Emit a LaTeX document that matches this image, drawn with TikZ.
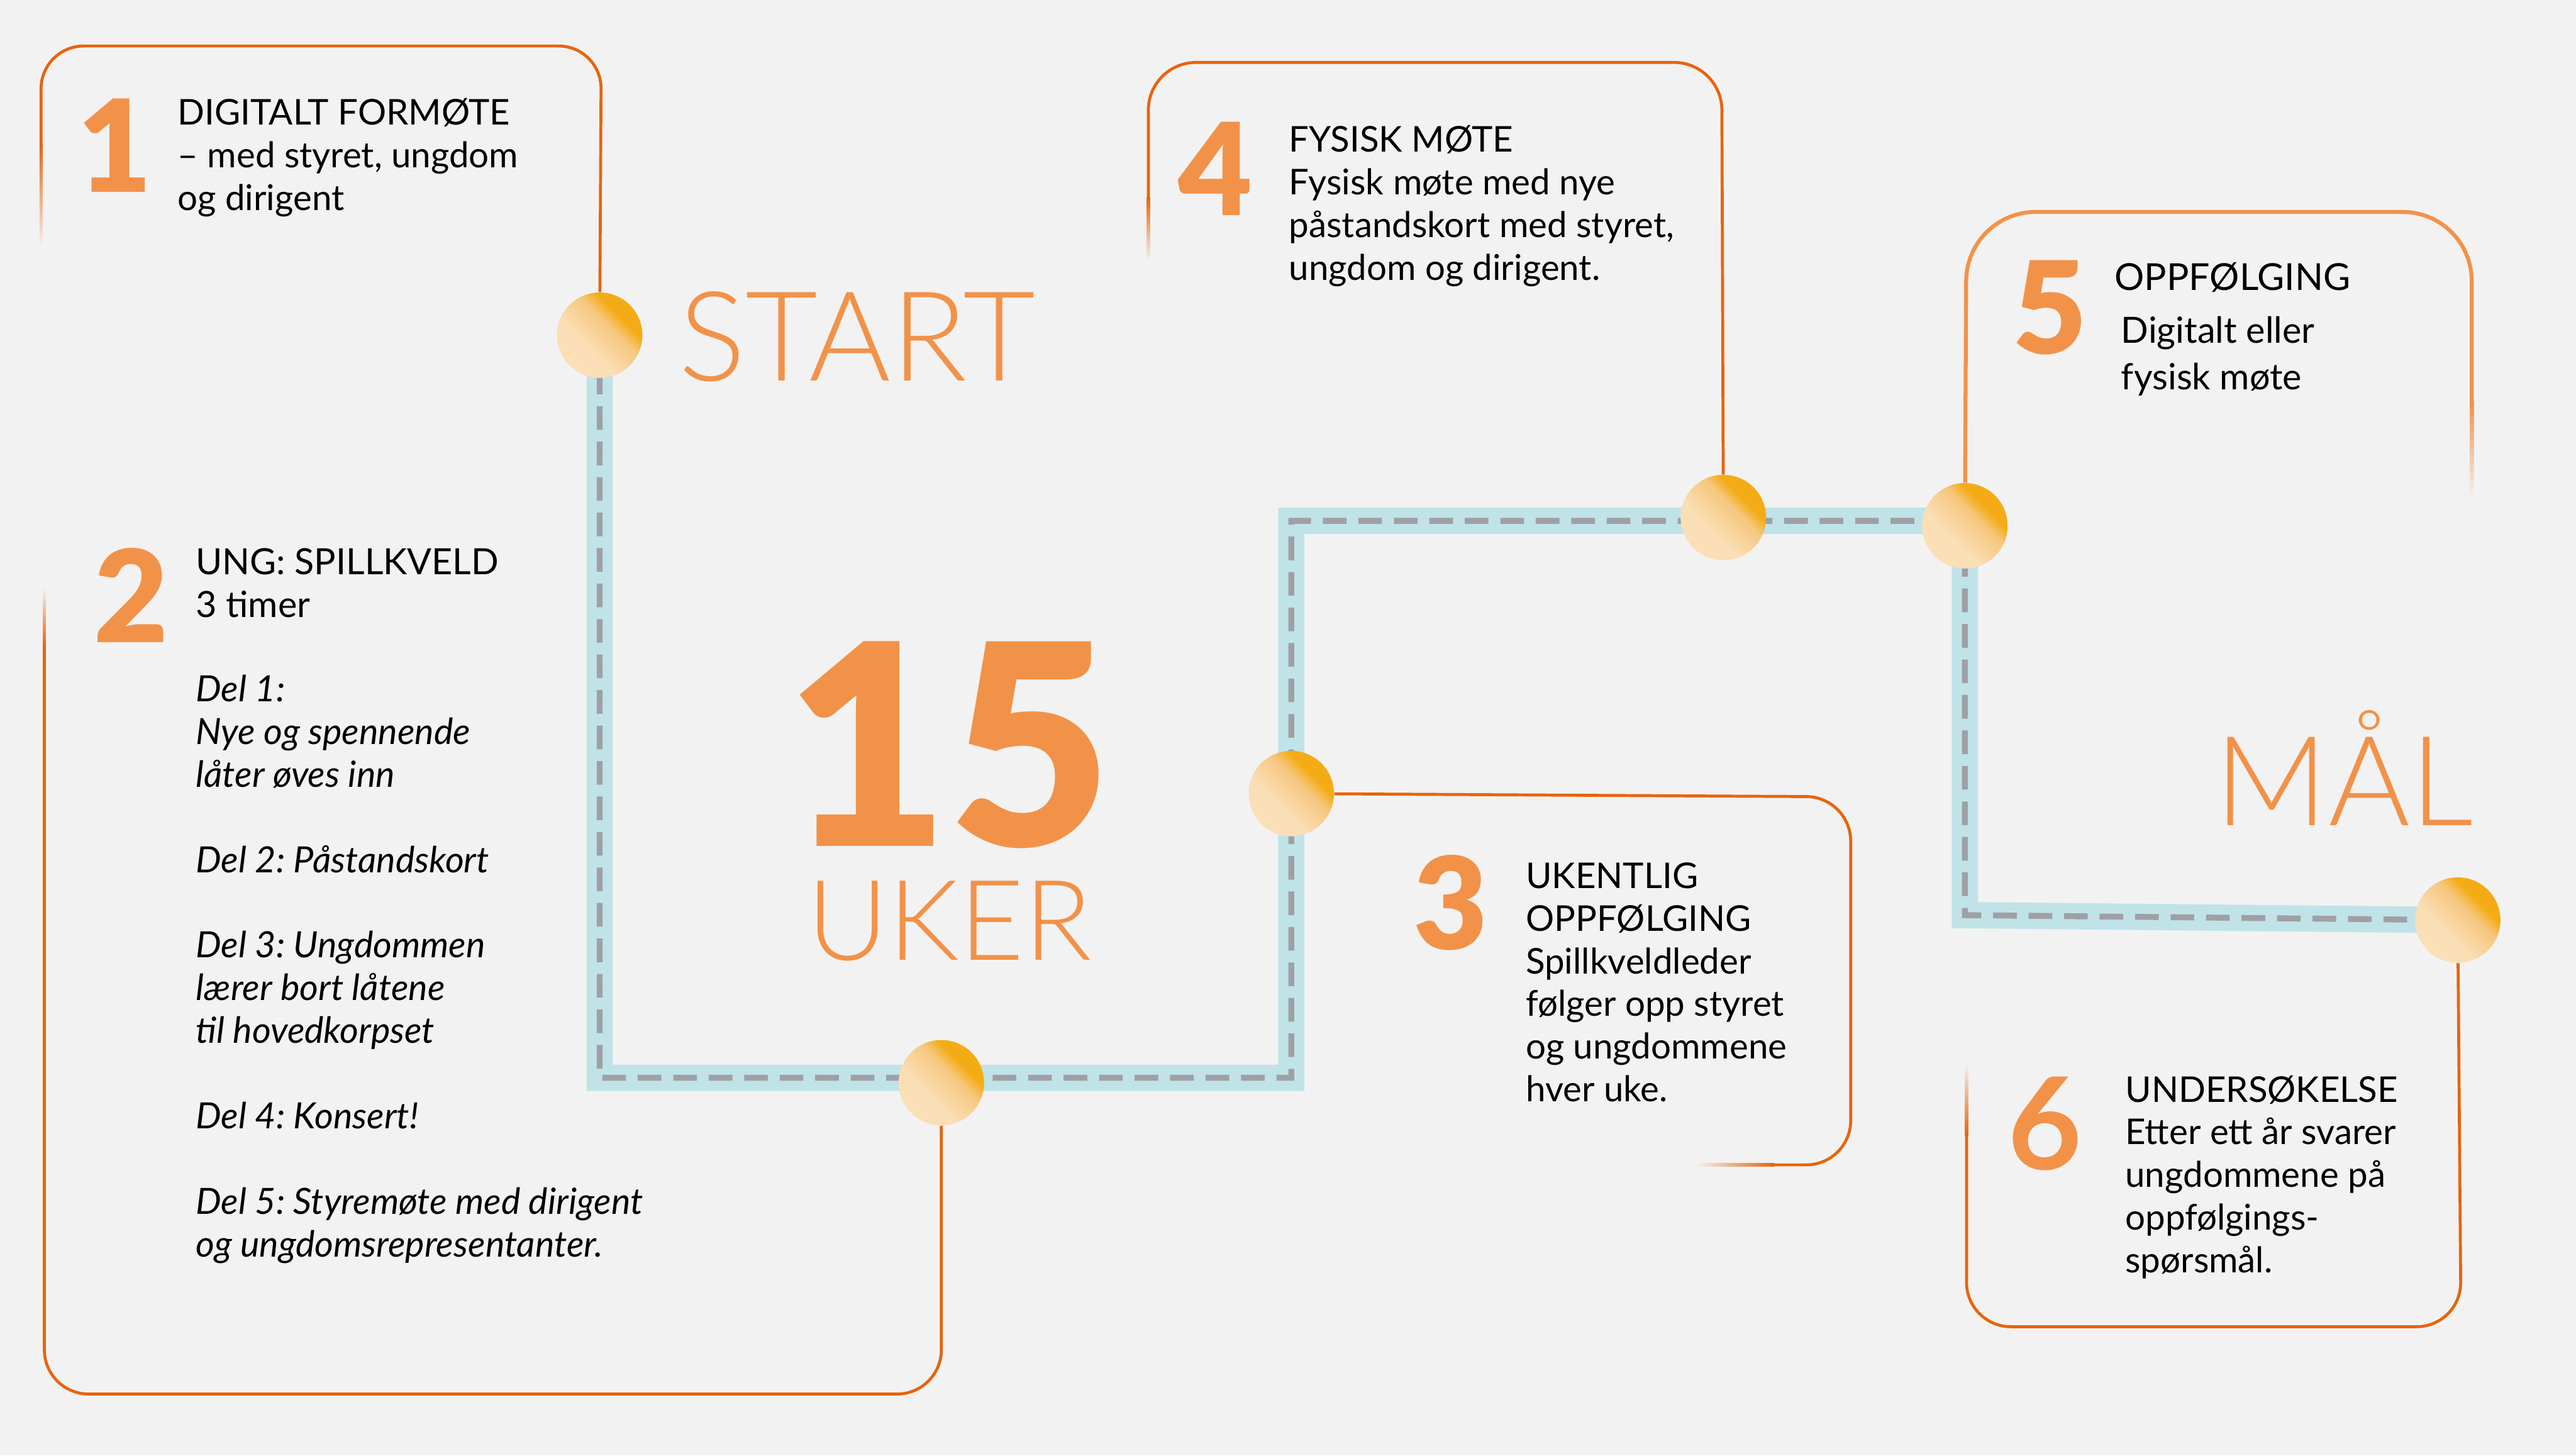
\documentclass[tikz,border=0pt]{standalone}
\usepackage{fontspec}
\setmainfont{Lato}
\newfontfamily\blackfont{Lato Black}
\newfontfamily\lightfont{Lato Light}
\usetikzlibrary{positioning, backgrounds}
\pgfdeclarelayer{paperlayer}
\pgfsetlayers{paperlayer,background,main}
\frenchspacing
\definecolor{paper}{HTML}{F2F2F2}
\definecolor{lineOrange}{HTML}{E8640C}
\definecolor{softOrange}{HTML}{F29249}
\definecolor{routeBlue}{HTML}{C0E3E8}
\definecolor{routeGrey}{HTML}{9FA0A5}
\definecolor{dotLight}{HTML}{FBE2BE}
\definecolor{dotMid}{HTML}{F6C77E}
\definecolor{dotDark}{HTML}{F4AC16}
\pgfdeclareverticalshading{dotwash}{100bp}{color(0bp)=(dotLight); color(40bp)=(dotLight!85!dotMid); color(58bp)=(dotMid); color(66bp)=(dotDark); color(100bp)=(dotDark)}

\begin{document}
\begin{tikzpicture}[x=1pt, y=-1pt,
    every node/.style={inner sep=0pt, anchor=base west, align=left},
    stopdot/.style={circle, minimum size=52pt, anchor=center, shading=dotwash, shading angle=-45},
    boxline/.style={draw=lineOrange, line width=1.8pt, rounded corners=27pt},
    bodytext/.style={font=\fontsize{21.6}{26}\selectfont},
    bignum/.style={text=softOrange, font=\blackfont\fontsize{78}{78}\selectfont},
    bigword/.style={text=softOrange, font=\lightfont\fontsize{76}{76}\selectfont},
    routeband/.style={draw=routeBlue, line width=16pt},
    routedash/.style={draw=routeGrey, line width=3.6pt, dash pattern=on 14.4pt off 7.2pt}]
  \useasboundingbox (0,0) rectangle (1568,886);
  \begin{pgfonlayer}{paperlayer}
    \fill[paper] (0,0) rectangle (1568,886);
  \end{pgfonlayer}

  \foreach \n/\x/\y in {1/365/204, 2/573/659, 3/786/483, 4/1049/315, 5/1196/320, 6/1496/560}
    \node[stopdot] (stop\n) at (\x,\y) {};

  \coordinate (bend1) at (365,656);
  \coordinate (bend2) at (786,656);
  \coordinate (bend3) at (786,317);
  \coordinate (bend4) at (1196,317);
  \coordinate (bend5) at (1196,557);

  \begin{scope}[on background layer]
    \foreach \s in {routeband, routedash}
      \draw[\s] (stop1.center) -- (bend1) -- (bend2) -- (bend3) -- (bend4) -- (bend5) -- (stop6.center);

    \draw[boxline, rounded corners=26pt] (25,88) -- (25,28) -- (366,28) -- (stop1);
    \shade[top color=lineOrange, bottom color=paper] (24.1,88) rectangle (25.9,150);

    \draw[boxline] (27,393) -- (27,848.5) -- (573,848.5) -- (stop2);
    \shade[top color=paper, bottom color=lineOrange] (26.1,358) rectangle (27.9,393);

    \draw[boxline] (stop3) -- (1126.5,485) -- (1126.5,709) -- (1080,709);
    \shade[left color=paper, right color=lineOrange] (1032,708.1) rectangle (1080,709.9);

    \draw[boxline, rounded corners=29pt] (699,120) -- (699,38) -- (1048,38) -- (stop4);
    \shade[top color=lineOrange, bottom color=paper] (698.1,120) rectangle (699.9,158);

    \draw[boxline, draw=softOrange, line width=2.4pt, rounded corners=42pt] (stop5) -- (1197,129) -- (1504.5,129) -- (1504.5,244);
    \shade[top color=softOrange, bottom color=paper] (1503.3,244) rectangle (1505.7,303);

    \draw[boxline] (1197,691) -- (1197,807.5) -- (1498,807.5) -- (stop6);
    \shade[top color=paper, bottom color=lineOrange] (1196.1,648) rectangle (1197.9,691);
  \end{scope}

  \node[bignum] (num1) at (47,117) {1};
  \node[bodytext] (txt1) at (108,128) {DIGITALT FORMØTE\\– med styret, ungdom\\og dirigent};

  \node[bignum] (num2) at (57,391) {2};
  \node[bodytext, font=\fontsize{22}{26}\selectfont] (head2) at (119,375.7) {UNG: SPILLKVELD\\3 timer};
  \node[bodytext, font=\itshape\fontsize{22}{26}\selectfont] (txt2) at (119,765)
    {Del 1:\\Nye og spennende\\låter øves inn\\[26pt]Del 2: Påstandskort\\[26pt]Del 3: Ungdommen\\lærer bort låtene\\til hovedkorpset\\[26pt]Del 4: Konsert!\\[26pt]Del 5: Styremøte med dirigent\\og ungdomsrepresentanter.};

  \node[bignum] (num3) at (860,578) {3};
  \node[bodytext] (txt3) at (928.6,670.6) {UKENTLIG\\OPPFØLGING\\Spillkveldleder\\følger opp styret\\og ungdommene\\hver uke.};

  \node[bignum] (num4) at (717,131) {4};
  \node[bodytext] (txt4) at (784.5,170.6) {FYSISK MØTE\\Fysisk møte med nye\\påstandskort med styret,\\ungdom og dirigent.};

  \node[bignum] (num5) at (1225,215.5) {5};
  \node[bodytext, font=\fontsize{22.6}{28}\selectfont] (head5) at (1287,176.8) {OPPFØLGING};
  \node[bodytext, font=\fontsize{22}{28}\selectfont] (txt5) at (1291,237) {Digitalt eller\\fysisk møte};

  \node[bignum, font=\bfseries\fontsize{78}{78}\selectfont] (num6) at (1222,712) {6};
  \node[bodytext] (txt6) at (1293.5,774.7) {UNDERSØKELSE\\Etter ett år svarer\\ungdommene på\\oppfølgings-\\spørsmål.};

  \node[text=softOrange, text depth=0pt, font=\blackfont\fontsize{171}{171}\selectfont] (weeks) at (478,515) {15};
  \node[bigword, text height=49pt, font=\lightfont\fontsize{68}{68}\selectfont] (weekword) at (491,584.3) {UKER};
  \node[bigword] (startword) at (413,231.7) {START};
  \node[bigword] (goalword) at (1348,502.4) {MÅL};
\end{tikzpicture}
\end{document}
